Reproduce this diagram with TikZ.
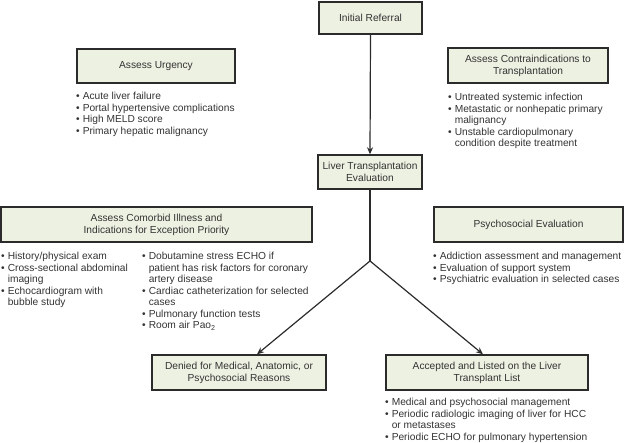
\documentclass[tikz,border=0pt]{standalone}
\usepackage{fontspec}
\setmainfont{Liberation Sans}
\usetikzlibrary{arrows.meta}
\definecolor{boxfill}{HTML}{EDF1E2}
\definecolor{boxline}{HTML}{2B2B2B}
\definecolor{txt}{HTML}{333333}
\newcommand{\bl}{\textbullet}
\newenvironment{blist}{\fontsize{10.2}{11.5}\selectfont\begin{tabular}{@{}l@{\hspace{3pt}}l@{}}}{\end{tabular}}
\begin{document}
\begin{tikzpicture}[x=1pt,y=-1pt,
  box/.style={draw=boxline,fill=boxfill,line width=1.4pt,align=center,inner sep=0pt,
    font=\fontsize{10.2}{12}\selectfont,text=txt},
  lst/.style={anchor=north west,inner sep=0pt,text=txt},
  conn/.style={draw=boxline,line width=1.2pt},
  arr/.style={conn,-{Stealth[length=7pt,width=6pt]}}]
\useasboundingbox (0,0) rectangle (624,443);

\node[box,minimum width=103pt,minimum height=32pt] (ref) at (370.5,18) {Initial Referral};
\node[box,minimum width=104pt,minimum height=34pt] (ltx) at (370,172) {Liver Transplantation\\Evaluation};
\node[box,minimum width=158pt,minimum height=34pt] (urg) at (156,66) {Assess Urgency};
\node[box,minimum width=160pt,minimum height=35pt] (con) at (528,65.5) {Assess Contraindications to\\Transplantation};
\node[box,minimum width=311pt,minimum height=35pt] (com) at (156.5,224.5) {Assess Comorbid Illness and\\Indications for Exception Priority};
\node[box,minimum width=189pt,minimum height=35pt] (psy) at (528.5,224.5) {Psychosocial Evaluation};
\node[box,minimum width=174pt,minimum height=35pt] (den) at (239,372.5) {Denied for Medical, Anatomic, or\\Psychosocial Reasons};
\node[box,minimum width=202pt,minimum height=35pt] (acc) at (487,372.5) {Accepted and Listed on the Liver\\Transplant List};

\node[lst] (urgl) at (76,91.4) {\begin{blist}
\bl & Acute liver failure\\
\bl & Portal hypertensive complications\\
\bl & High MELD score\\
\bl & Primary hepatic malignancy
\end{blist}};

\node[lst] (conl) at (448,92.4) {\begin{blist}
\bl & Untreated systemic infection\\
\bl & Metastatic or nonhepatic primary\\
 & malignancy\\
\bl & Unstable cardiopulmonary\\
 & condition despite treatment
\end{blist}};

\node[lst] (coml) at (1,251.4) {\begin{blist}
\bl & History/physical exam\\
\bl & Cross-sectional abdominal\\
 & imaging\\
\bl & Echocardiogram with\\
 & bubble study
\end{blist}};

\node[lst] (comr) at (142,251.4) {\begin{blist}
\bl & Dobutamine stress ECHO if\\
 & patient has risk factors for coronary\\
 & artery disease\\
\bl & Cardiac catheterization for selected\\
 & cases\\
\bl & Pulmonary function tests\\
\bl & Room air Pao\textsubscript{2}
\end{blist}};

\node[lst] (psyl) at (433,251.4) {\begin{blist}
\bl & Addiction assessment and management\\
\bl & Evaluation of support system\\
\bl & Psychiatric evaluation in selected cases
\end{blist}};

\node[lst] (accl) at (385,397.4) {\begin{blist}
\bl & Medical and psychosocial management\\
\bl & Periodic radiologic imaging of liver for HCC\\
 & or metastases\\
\bl & Periodic ECHO for pulmonary hypertension
\end{blist}};

\coordinate (j) at (370,261);
\draw[arr] (ref.south) -- (ltx.north);
\draw[conn] (ltx.south) -- (j);
\draw[arr] (j) -- ([xshift=18pt]den.north);
\draw[arr] (j) -- ([xshift=-4pt]acc.north);
\end{tikzpicture}
\end{document}
